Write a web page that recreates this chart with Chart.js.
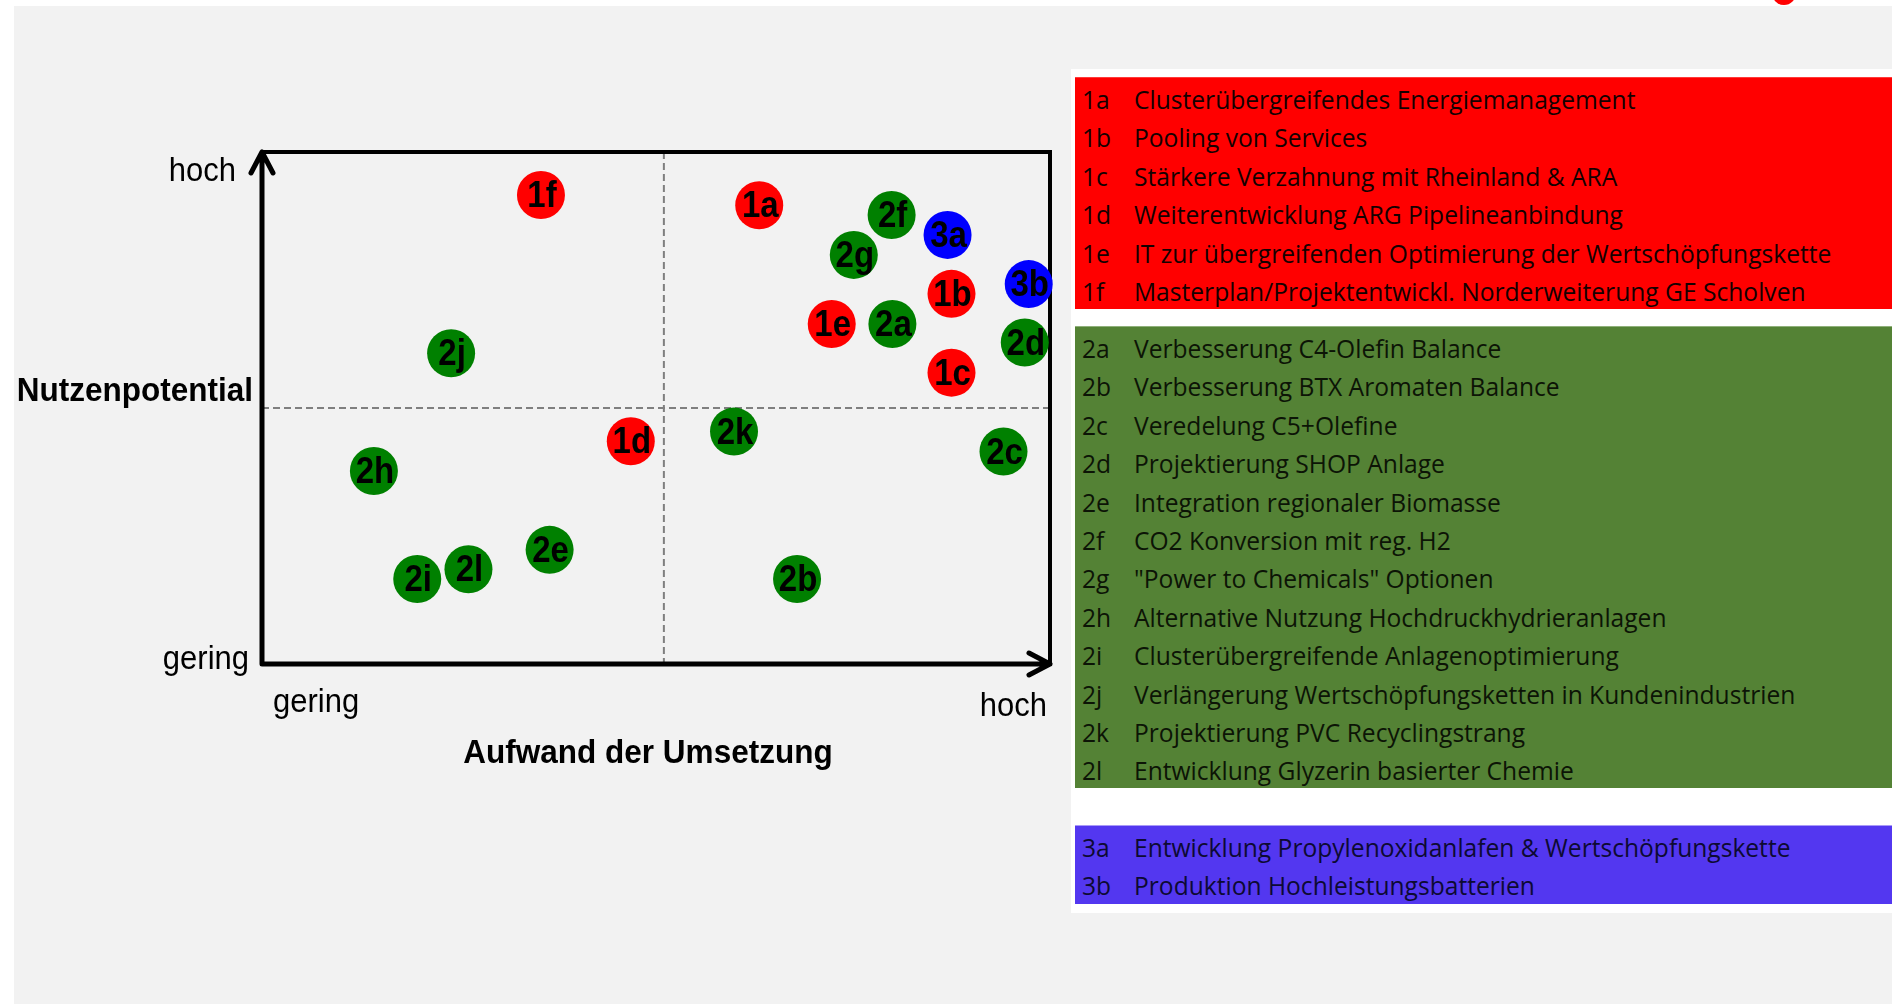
<!DOCTYPE html>
<html>
<head>
<meta charset="utf-8">
<title>Nutzenpotential / Aufwand der Umsetzung</title>
<script src="https://cdn.jsdelivr.net/npm/chart.js@4/dist/chart.umd.min.js"></script>
<style>
  html, body { margin: 0; padding: 0; background: #fff; }
  body { width: 1892px; height: 1004px; position: relative; overflow: hidden; }
  #backdrop { position: absolute; left: 14px; top: 6px; right: 0; bottom: 0; background: #f2f2f2; }
  #dot { position: absolute; left: 1772px; top: -19px; width: 24px; height: 24px; border-radius: 50%; background: #ff0000; }
  #chart { position: absolute; left: 0; top: 0; }
  #legend { position: absolute; left: 1071px; top: 69px; width: 821px; height: 844px; background: #fff; }
  .block { position: absolute; left: 4px; right: 0; padding-top: 3px; box-sizing: border-box;
           font-family: "Open Sans", sans-serif; font-size: 24.6px; }
  .row { height: 38.4px; line-height: 38.4px; white-space: nowrap; }
  .code { display: inline-block; width: 52px; padding-left: 7px; }
</style>
</head>
<body>
<div id="backdrop"></div>
<div id="dot"></div>
<canvas id="chart" width="1892" height="1004"></canvas>
<div id="legend"></div>

<script>
// Cluster 1 (rot)
const ids1 = ['1a', '1b', '1c', '1d', '1e', '1f'];
const aufwand1 = [6.31, 8.75, 8.75, 4.68, 7.23, 3.54];
const nutzen1 = [8.96, 7.23, 5.69, 4.35, 6.64, 9.16];
const texts1 = [
  'Clusterübergreifendes Energiemanagement',
  'Pooling von Services',
  'Stärkere Verzahnung mit Rheinland & ARA',
  'Weiterentwicklung ARG Pipelineanbindung',
  'IT zur übergreifenden Optimierung der Wertschöpfungskette',
  'Masterplan/Projektentwickl. Norderweiterung GE Scholven'
];

// Cluster 2 (gruen)
const ids2 = ['2a', '2b', '2c', '2d', '2e', '2f', '2g', '2h', '2i', '2j', '2k', '2l'];
const aufwand2 = [8.00, 6.79, 9.41, 9.68, 3.65, 7.99, 7.51, 1.42, 1.97, 2.40, 5.99, 2.62];
const nutzen2 = [6.64, 1.66, 4.15, 6.28, 2.23, 8.77, 7.99, 3.77, 1.66, 6.07, 4.54, 1.85];
const texts2 = [
  'Verbesserung C4-Olefin Balance',
  'Verbesserung BTX Aromaten Balance',
  'Veredelung C5+Olefine',
  'Projektierung SHOP Anlage',
  'Integration regionaler Biomasse',
  'CO2 Konversion mit reg. H2',
  '"Power to Chemicals" Optionen',
  'Alternative Nutzung Hochdruckhydrieranlagen',
  'Clusterübergreifende Anlagenoptimierung',
  'Verlängerung Wertschöpfungsketten in Kundenindustrien',
  'Projektierung PVC Recyclingstrang',
  'Entwicklung Glyzerin basierter Chemie'
];

// Cluster 3 (blau)
const ids3 = ['3a', '3b'];
const aufwand3 = [8.70, 9.73];
const nutzen3 = [8.38, 7.42];
const texts3 = [
  'Entwicklung Propylenoxidanlafen & Wertschöpfungskette',
  'Produktion Hochleistungsbatterien'
];

// Achsen
const axisMin = 0;
const axisMax = 10;
const midAufwand = 5.1;
const midNutzen = 5;

const toPoints = (xs, ys) => xs.map((x, i) => ({ x: x, y: ys[i] }));

// legend blocks on the right side
const legendBlocks = [
  { ids: ids1, texts: texts1, top: 8, height: 232, bg: '#ff0000', border: '#ff3b3b', color: '#140000' },
  { ids: ids2, texts: texts2, top: 257, height: 462, bg: '#548235', border: '#8fb07a', color: '#0c1406' },
  { ids: ids3, texts: texts3, top: 756, height: 79, bg: '#5337f0', border: '#a99af7', color: '#0d0a33' }
];

const legend = document.getElementById('legend');
legendBlocks.forEach(b => {
  const div = document.createElement('div');
  div.className = 'block';
  div.style.top = b.top + 'px';
  div.style.height = b.height + 'px';
  div.style.background = b.bg;
  div.style.borderTop = '1px solid ' + b.border;
  div.style.color = b.color;
  b.ids.forEach((id, i) => {
    const row = document.createElement('div');
    row.className = 'row';
    const code = document.createElement('span');
    code.className = 'code';
    code.textContent = id;
    const txt = document.createElement('span');
    txt.textContent = b.texts[i];
    row.appendChild(code);
    row.appendChild(txt);
    div.appendChild(row);
  });
  legend.appendChild(div);
});

const allIds = [ids1, ids2, ids3];

// text a bit stretched in height, like the original
function tallText(ctx, str, x, y, stretch) {
  ctx.save();
  ctx.translate(x, y);
  ctx.scale(1, stretch);
  ctx.fillText(str, 0, 0);
  ctx.restore();
}

// frame, arrows and dashed quadrant lines
const framePlugin = {
  id: 'frame',
  beforeDatasetsDraw(chart) {
    const { ctx, chartArea: a, scales } = chart;
    const mx = scales.x.getPixelForValue(midAufwand);
    const my = scales.y.getPixelForValue(midNutzen);

    ctx.save();
    ctx.strokeStyle = '#7f7f7f';
    ctx.lineWidth = 2;
    ctx.setLineDash([7, 4]);
    ctx.beginPath();
    ctx.moveTo(mx, a.top);
    ctx.lineTo(mx, a.bottom);
    ctx.moveTo(a.left, my);
    ctx.lineTo(a.right, my);
    ctx.stroke();
    ctx.setLineDash([]);

    ctx.strokeStyle = '#000';
    ctx.lineWidth = 4;
    ctx.beginPath();
    ctx.moveTo(a.left, a.top);
    ctx.lineTo(a.right, a.top);
    ctx.lineTo(a.right, a.bottom);
    ctx.stroke();

    ctx.lineWidth = 5;
    ctx.lineCap = 'round';
    ctx.lineJoin = 'round';
    ctx.beginPath();
    ctx.moveTo(a.left, a.bottom);
    ctx.lineTo(a.left, a.top);
    ctx.moveTo(a.left - 11, a.top + 21);
    ctx.lineTo(a.left, a.top);
    ctx.lineTo(a.left + 11, a.top + 21);
    ctx.moveTo(a.left, a.bottom);
    ctx.lineTo(a.right, a.bottom);
    ctx.moveTo(a.right - 21, a.bottom - 11);
    ctx.lineTo(a.right, a.bottom);
    ctx.lineTo(a.right - 21, a.bottom + 11);
    ctx.stroke();

    // axis texts
    ctx.fillStyle = '#000';
    ctx.textBaseline = 'middle';
    ctx.font = '31px "Liberation Sans", Arial, sans-serif';
    ctx.textAlign = 'right';
    tallText(ctx, 'hoch', a.left - 26, a.top + 20, 1.08);
    tallText(ctx, 'gering', a.left - 13, a.bottom - 4, 1.08);
    tallText(ctx, 'hoch', a.right - 3, a.bottom + 43, 1.08);
    ctx.textAlign = 'left';
    tallText(ctx, 'gering', a.left + 11, a.bottom + 39, 1.08);

    ctx.font = 'bold 31.5px "Liberation Sans", Arial, sans-serif';
    ctx.textAlign = 'right';
    tallText(ctx, 'Nutzenpotential', a.left - 9, 392, 1.05);
    ctx.textAlign = 'center';
    tallText(ctx, 'Aufwand der Umsetzung', (a.left + a.right) / 2 - 8, a.bottom + 90, 1.05);
    ctx.restore();
  },
  afterDatasetsDraw(chart) {
    const { ctx } = chart;
    ctx.save();
    ctx.fillStyle = '#000';
    ctx.font = 'bold 33px "Liberation Sans", Arial, sans-serif';
    ctx.textAlign = 'center';
    ctx.textBaseline = 'middle';
    chart.data.datasets.forEach((ds, d) => {
      chart.getDatasetMeta(d).data.forEach((el, i) => {
        tallText(ctx, allIds[d][i], el.x + 1, el.y + 2, 1.12);
      });
    });
    ctx.restore();
  }
};

const chart = new Chart(document.getElementById('chart'), {
  type: 'scatter',
  data: {
    datasets: [
      { label: 'Cluster 1', data: toPoints(aufwand1, nutzen1), backgroundColor: '#ff0000' },
      { label: 'Cluster 2', data: toPoints(aufwand2, nutzen2), backgroundColor: '#008000' },
      { label: 'Cluster 3', data: toPoints(aufwand3, nutzen3), backgroundColor: '#0000ff' }
    ]
  },
  options: {
    responsive: false,
    animation: false,
    events: [],
    devicePixelRatio: 1,
    clip: false,
    layout: { padding: { left: 262, top: 152, right: 842, bottom: 340 } },
    elements: { point: { radius: 24, borderWidth: 0, pointStyle: 'circle' } },
    scales: {
      x: { type: 'linear', min: axisMin, max: axisMax, display: false },
      y: { type: 'linear', min: axisMin, max: axisMax, display: false }
    },
    plugins: {
      legend: { display: false },
      tooltip: { enabled: false }
    }
  },
  plugins: [framePlugin]
});
</script>
</body>
</html>
